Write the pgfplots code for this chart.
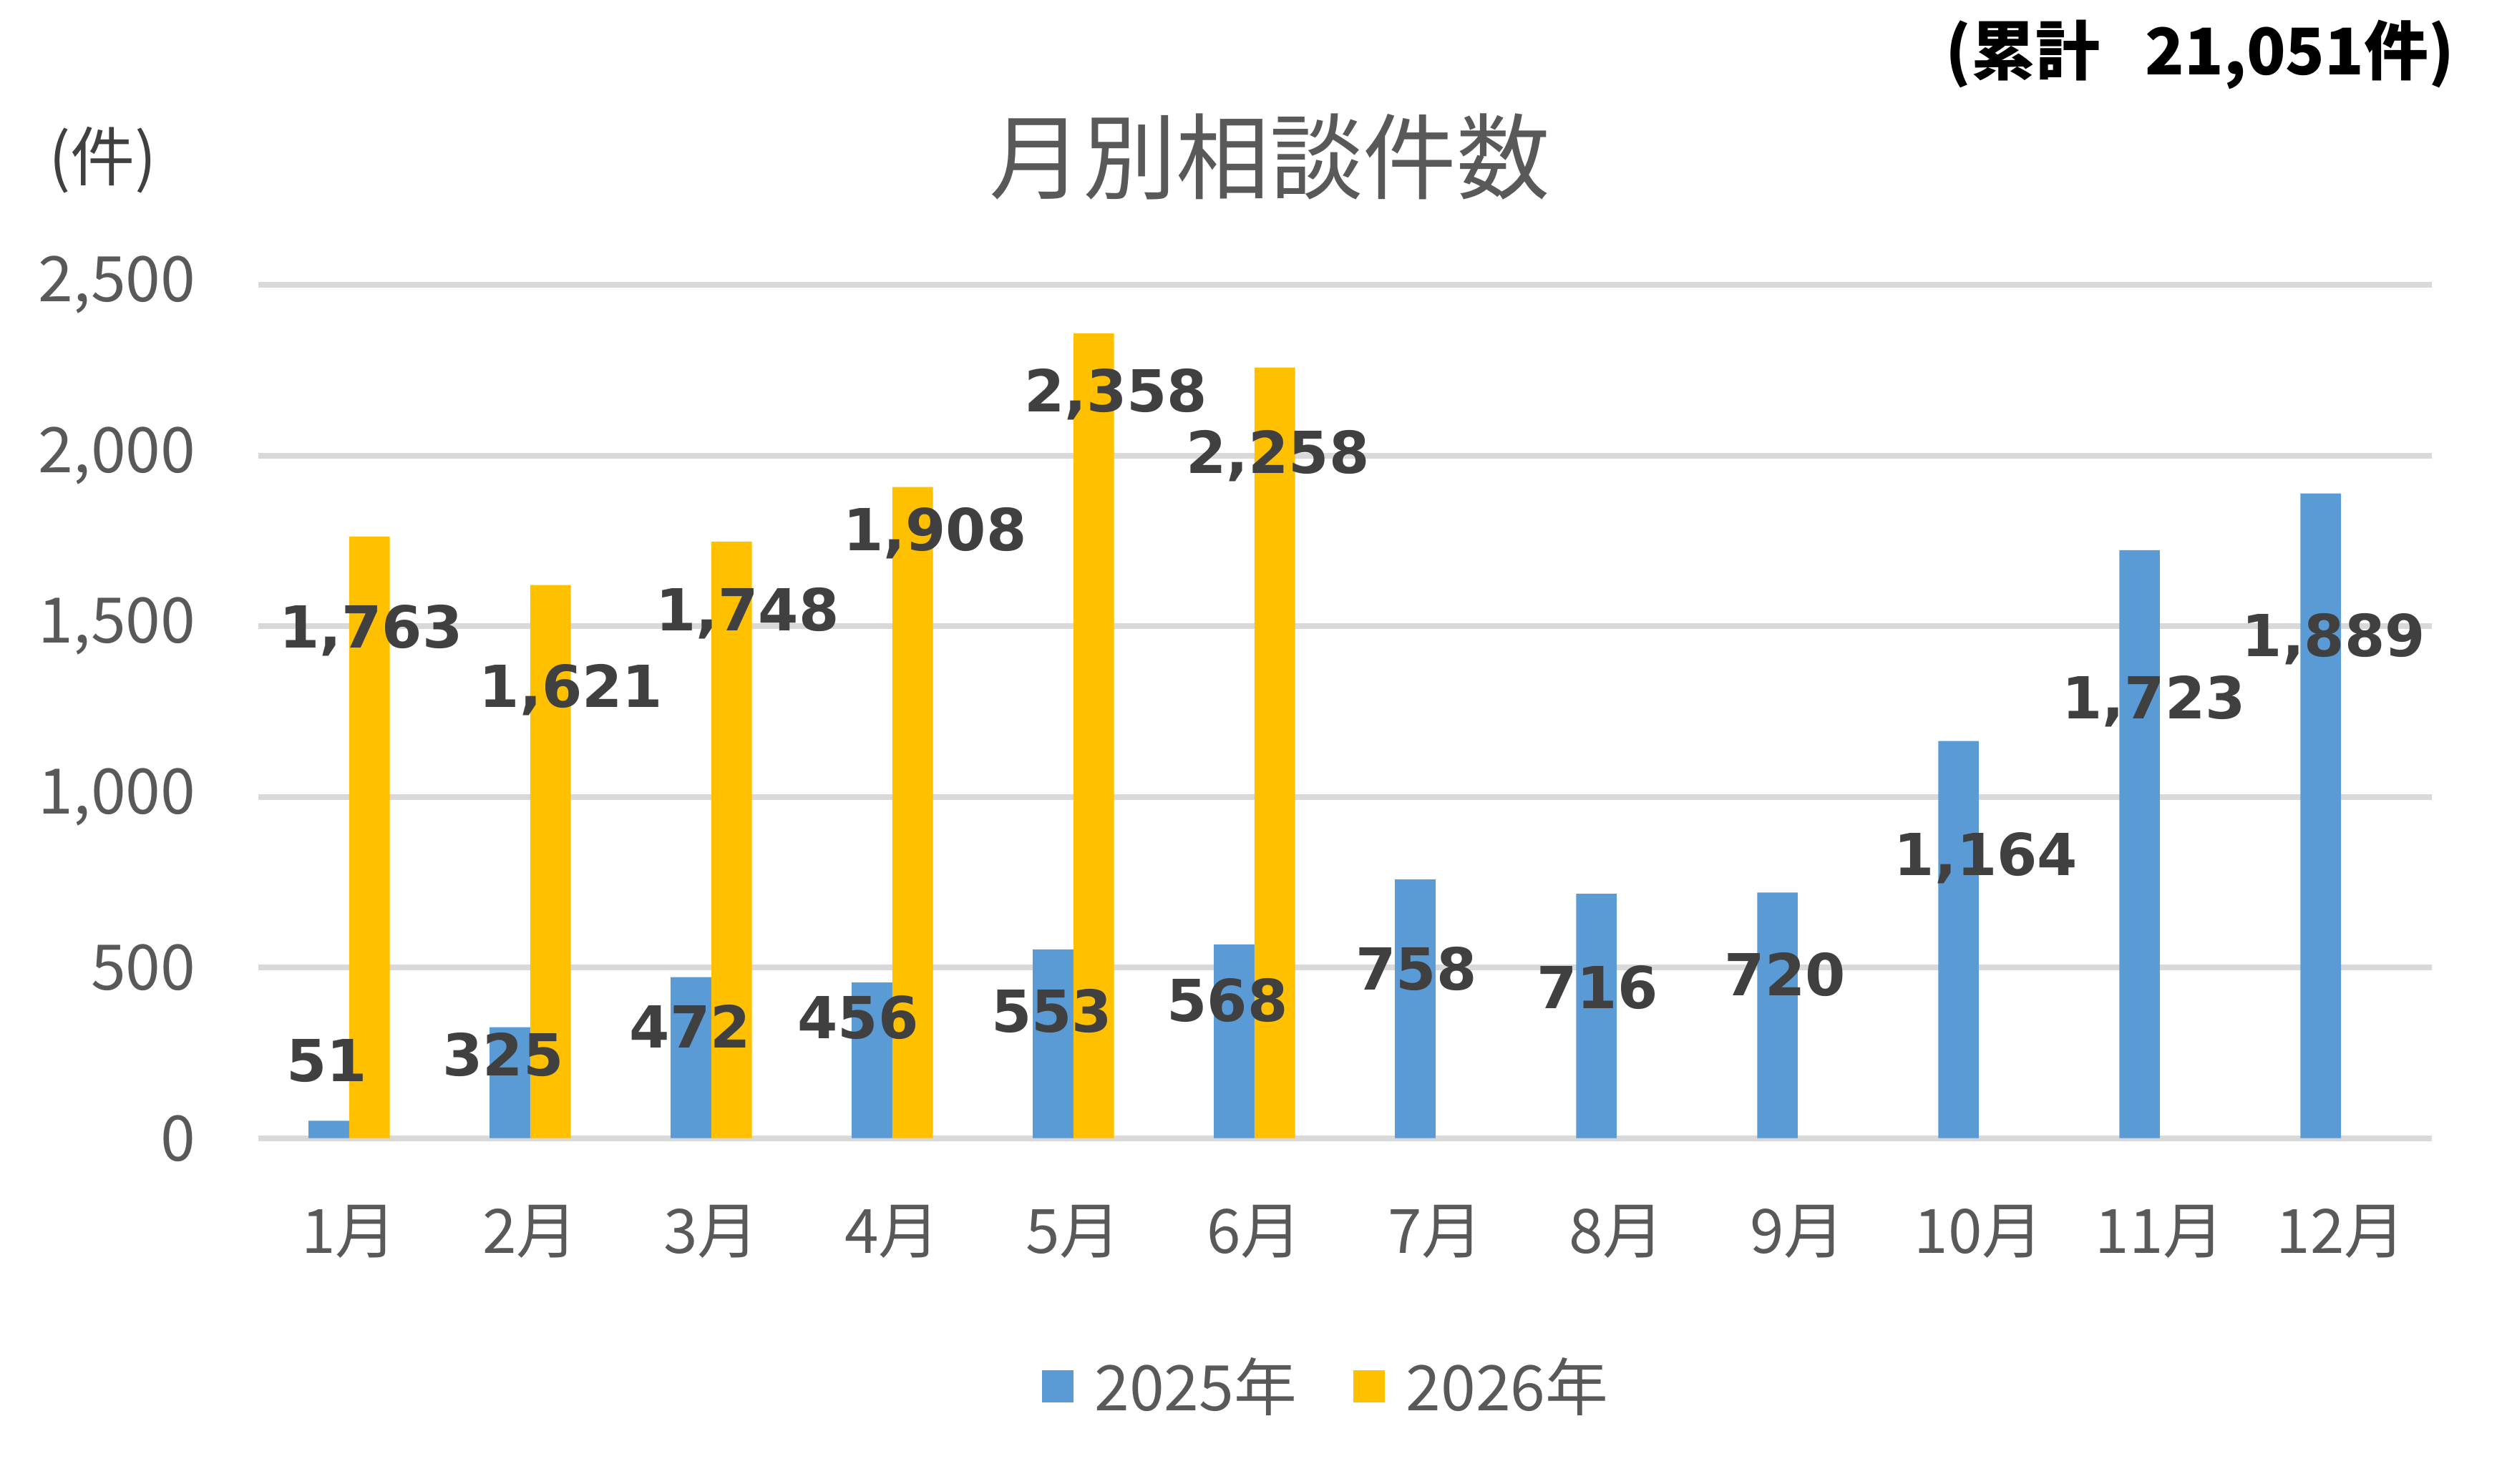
\documentclass[border=0pt]{standalone}
\usepackage{pgfplots}
\pgfplotsset{compat=1.18}
\usepackage{fontspec}
\setmainfont{Noto Sans CJK JP}
\newfontfamily\lblfont{DejaVu Sans}
\definecolor{c25}{HTML}{5B9BD5}
\definecolor{c26}{HTML}{FFC000}
\definecolor{gridc}{HTML}{D9D9D9}
\definecolor{tickc}{HTML}{595959}
\definecolor{lblc}{HTML}{404040}
\begin{document}
\begin{tikzpicture}
\useasboundingbox (-80.3pt,-107.2pt) rectangle (699.7pt,353.5pt);
\begin{axis}[
  name=ax, at={(0pt,0pt)}, anchor=south west,
  scale only axis, width=674.7pt, height=265pt,
  xmin=-0.5, xmax=11.5, ymin=0, ymax=2500,
  xtick={0,1,2,3,4,5,6,7,8,9,10,11},
  xticklabels={1月,2月,3月,4月,5月,6月,7月,8月,9月,10月,11月,12月},
  ytick={0,500,1000,1500,2000,2500},
  axis line style={draw=none},
  major tick length=0pt,
  ymajorgrids, grid style={line width=1.7pt, color=gridc},
  /pgf/number format/assume math mode=true,
  /pgf/number format/1000 sep={,},
  yticklabel style={font=\fontsize{19.5}{22}\selectfont, text=tickc, anchor=east, inner sep=0pt, xshift=-19.4pt},
  xticklabel style={font=\fontsize{19}{22}\selectfont, text=tickc, anchor=center, inner sep=0pt, yshift=-29pt},
  legend style={at={(0.4923,-0.291)}, anchor=center, draw=none, fill=none,
    font=\fontsize{19.5}{22}\selectfont, text=tickc,
    /tikz/every odd column/.append style={column sep=4.5pt},
    /tikz/every even column/.append style={column sep=15.5pt}},
  legend columns=2,
  clip=false,
]
\addplot[ybar, bar width=12.6pt, bar shift=-6.3pt, fill=c25, draw=none,
  legend image code/.code={\fill[c25] (0pt,-4.95pt) rectangle (9.9pt,4.95pt);}] coordinates {
  (0,51) (1,325) (2,472) (3,456) (4,553) (5,568)
  (6,758) (7,716) (8,720) (9,1164) (10,1723) (11,1889)};
\addlegendentry{2025年}
\addplot[ybar, bar width=12.6pt, bar shift=6.3pt, fill=c26, draw=none,
  legend image code/.code={\fill[c26] (0pt,-4.95pt) rectangle (9.9pt,4.95pt);}] coordinates {
  (0,1763) (1,1621) (2,1748) (3,1908) (4,2358) (5,2258)};
\addlegendentry{2026年}
% data labels (2025)
\addplot[forget plot, only marks, mark=*, mark size=0pt, mark options={draw=none,fill=none},
  nodes near coords, point meta=explicit symbolic,
  every node near coord/.style={anchor=center, inner sep=0pt, text depth=0pt,
    font=\lblfont\bfseries\fontsize{18}{20}\selectfont, text=lblc}]
  coordinates {
  (-0.122,228) [51]
  (0.851,245) [325]
  (1.883,327) [472]
  (2.810,355) [456]
  (3.880,373) [553]
  (4.850,405) [568]
  (5.893,498) [758]
  (6.893,442) [716]
  (7.930,481) [720]
  (9.040,833) [1,164]
  (9.967,1291) [1,723]
  (10.96,1474) [1,889]
  };
% data labels (2026)
\addplot[forget plot, only marks, mark=*, mark size=0pt, mark options={draw=none,fill=none},
  nodes near coords, point meta=explicit symbolic,
  every node near coord/.style={anchor=center, inner sep=0pt, text depth=0pt,
    font=\lblfont\bfseries\fontsize{18}{20}\selectfont, text=lblc}]
  coordinates {
  (0.121,1500) [1,763]
  (1.226,1325) [1,621]
  (2.200,1550) [1,748]
  (3.235,1785) [1,908]
  (4.234,2191) [2,358]
  (5.128,2012) [2,258]
  };
\end{axis}
\node[font=\fontsize{29}{32}\selectfont, text=tickc, inner sep=0pt] at (314pt,304.8pt) {月別相談件数};
\node[font=\fontsize{20}{22}\selectfont, text=lblc, inner sep=0pt] at (-48.3pt,303.8pt) {(件)};
\node[font=\bfseries\fontsize{20}{22}\selectfont, text=black, anchor=east, inner sep=0pt] at (682pt,336.5pt) {(累計\hspace{14pt}21,051件)};
\end{tikzpicture}
\end{document}
